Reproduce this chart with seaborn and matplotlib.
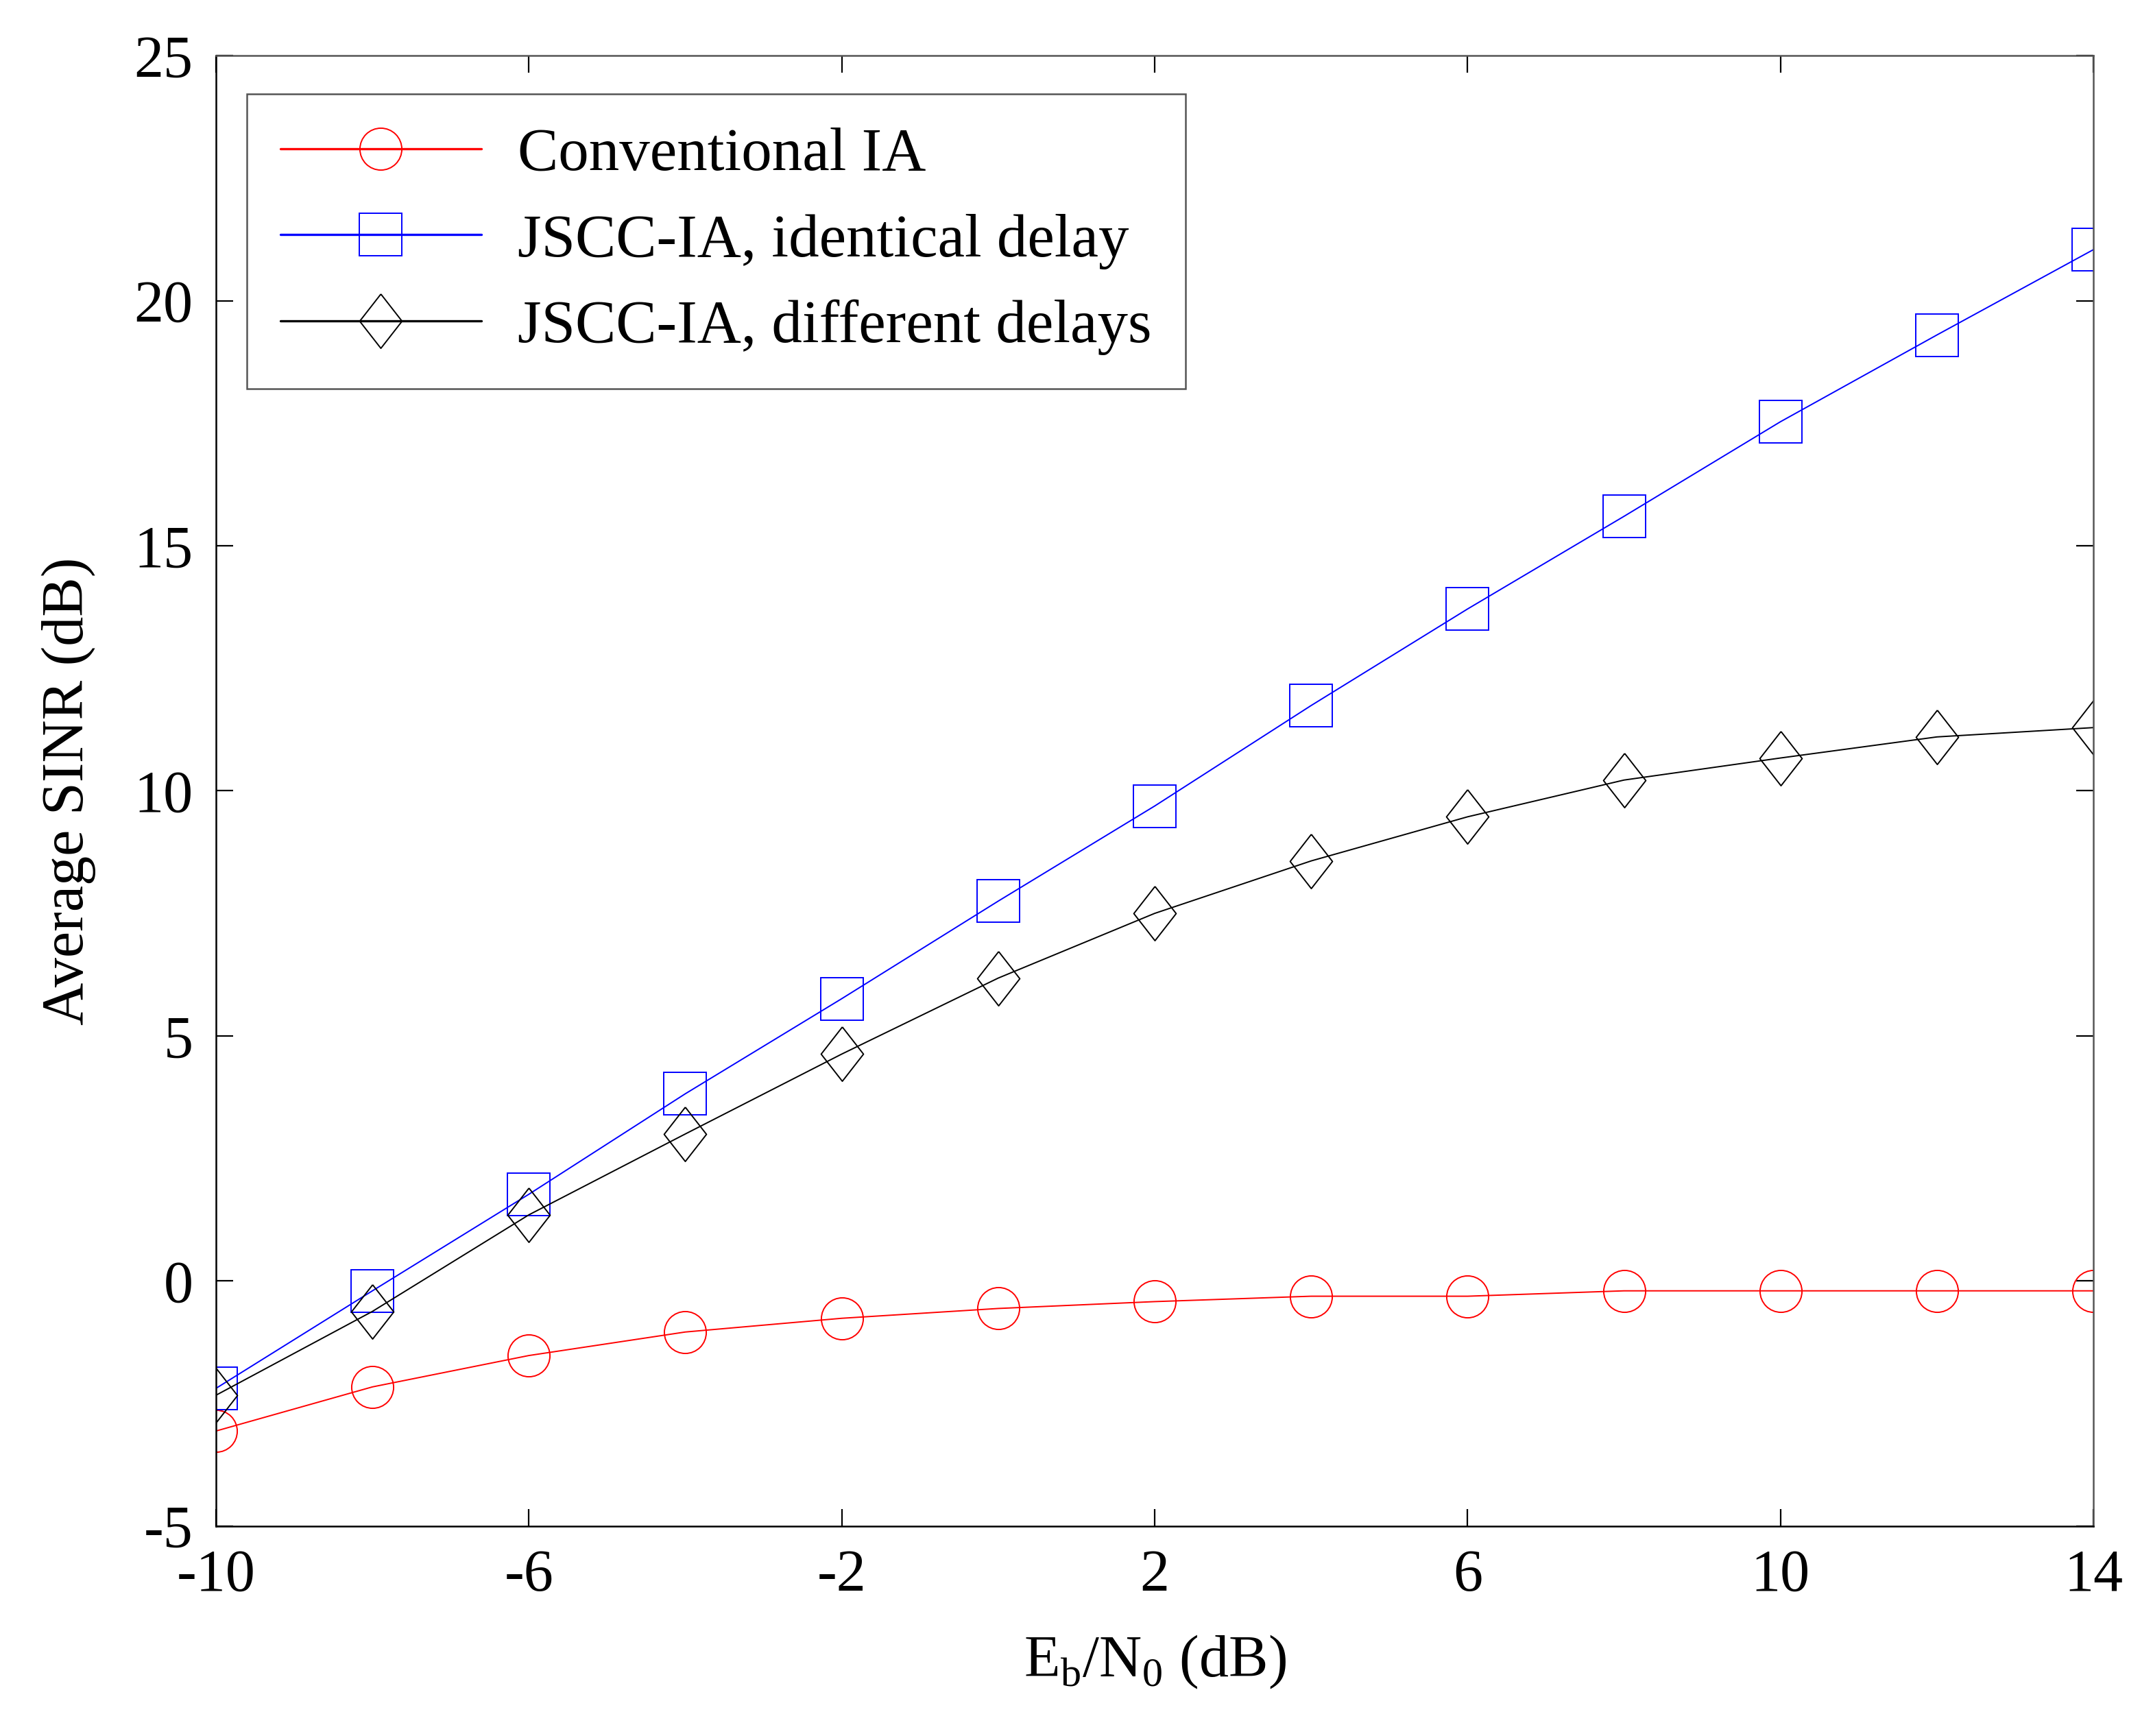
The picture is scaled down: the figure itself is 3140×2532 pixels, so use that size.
import matplotlib
matplotlib.use("Agg")
import matplotlib.pyplot as plt
import seaborn as sns

sns.set_theme(style="ticks")
plt.rcParams["font.family"] = ["Liberation Serif", "DejaVu Serif"]
plt.rcParams["mathtext.fontset"] = "custom"
plt.rcParams["mathtext.rm"] = "Liberation Serif"
plt.rcParams["axes.unicode_minus"] = False
plt.rcParams["text.color"] = "black"
plt.rcParams["axes.labelcolor"] = "black"

EBN0 = [-10, -8, -6, -4, -2, 0, 2, 4, 6, 8, 10, 12, 14]
SINR_CONV = [-3.06, -2.16, -1.52, -1.04, -0.76, -0.56, -0.42, -0.31, -0.31, -0.2, -0.2, -0.2, -0.2]
SINR_IDENT = [-2.19, -0.2, 1.77, 3.82, 5.76, 7.75, 9.69, 11.74, 13.71, 15.6, 17.53, 19.3, 21.04]
SINR_DIFF = [-2.33, -0.62, 1.35, 3.0, 4.63, 6.18, 7.5, 8.57, 9.47, 10.22, 10.67, 11.1, 11.29]
LABELS = ["Conventional IA", "JSCC-IA, identical delay", "JSCC-IA, different delays"]
XTICKS = [-10, -6, -2, 2, 6, 10, 14]
YTICKS = [-5, 0, 5, 10, 15, 20, 25]

# losango fino, um pouco mais largo que o 'd' do matplotlib
DIAMANTE = [(0, 0.5), (0.39, 0), (0, -0.5), (-0.39, 0), (0, 0.5)]

fig = plt.figure(figsize=(15.7, 12.66), dpi=200)
ax = fig.add_axes([0.1003, 0.1209, 0.872, 0.8471])

series = [
    (SINR_CONV, "#ff0000", "o", 22),
    (SINR_IDENT, "#0000ff", "s", 22),
    (SINR_DIFF, "#000000", DIAMANTE, 28.5),
]

for (valores, cor, marc, ms), label in zip(series, LABELS):
    sns.lineplot(x=EBN0, y=valores, ax=ax, color=cor, marker=marc, markersize=ms,
                 markerfacecolor="none", markeredgecolor=cor, markeredgewidth=0.7,
                 linewidth=0.7, label=label)

ax.set_xlim(-10, 14)
ax.set_ylim(-5, 25)
ax.set_xticks(XTICKS)
ax.set_yticks(YTICKS)
ax.tick_params(direction="in", length=9, width=0.8, top=True, right=True,
               labelsize=31, pad=12, colors="#000000")
for lado in ["top", "right"]:
    ax.spines[lado].set_color("#555555")
for lado in ["left", "bottom"]:
    ax.spines[lado].set_color("#000000")
for sp in ax.spines.values():
    sp.set_linewidth(0.9)

ax.set_xlabel(r"E$_\mathregular{b}$/N$_\mathregular{0}$ (dB)", fontsize=31, labelpad=16)
ax.set_ylabel("Average SINR (dB)", fontsize=31, labelpad=20)

leg = ax.legend(loc="upper left", bbox_to_anchor=(0.0164, 0.974), borderaxespad=0,
                fontsize=32, handlelength=3.3, handletextpad=0.6, labelspacing=0.5,
                borderpad=0.55, fancybox=False, framealpha=1, edgecolor="#555555")
leg.get_frame().set_linewidth(0.9)
for linha in leg.get_lines():
    linha.set_linewidth(1.2)

fig.savefig("out.png", dpi=200, facecolor="white")
